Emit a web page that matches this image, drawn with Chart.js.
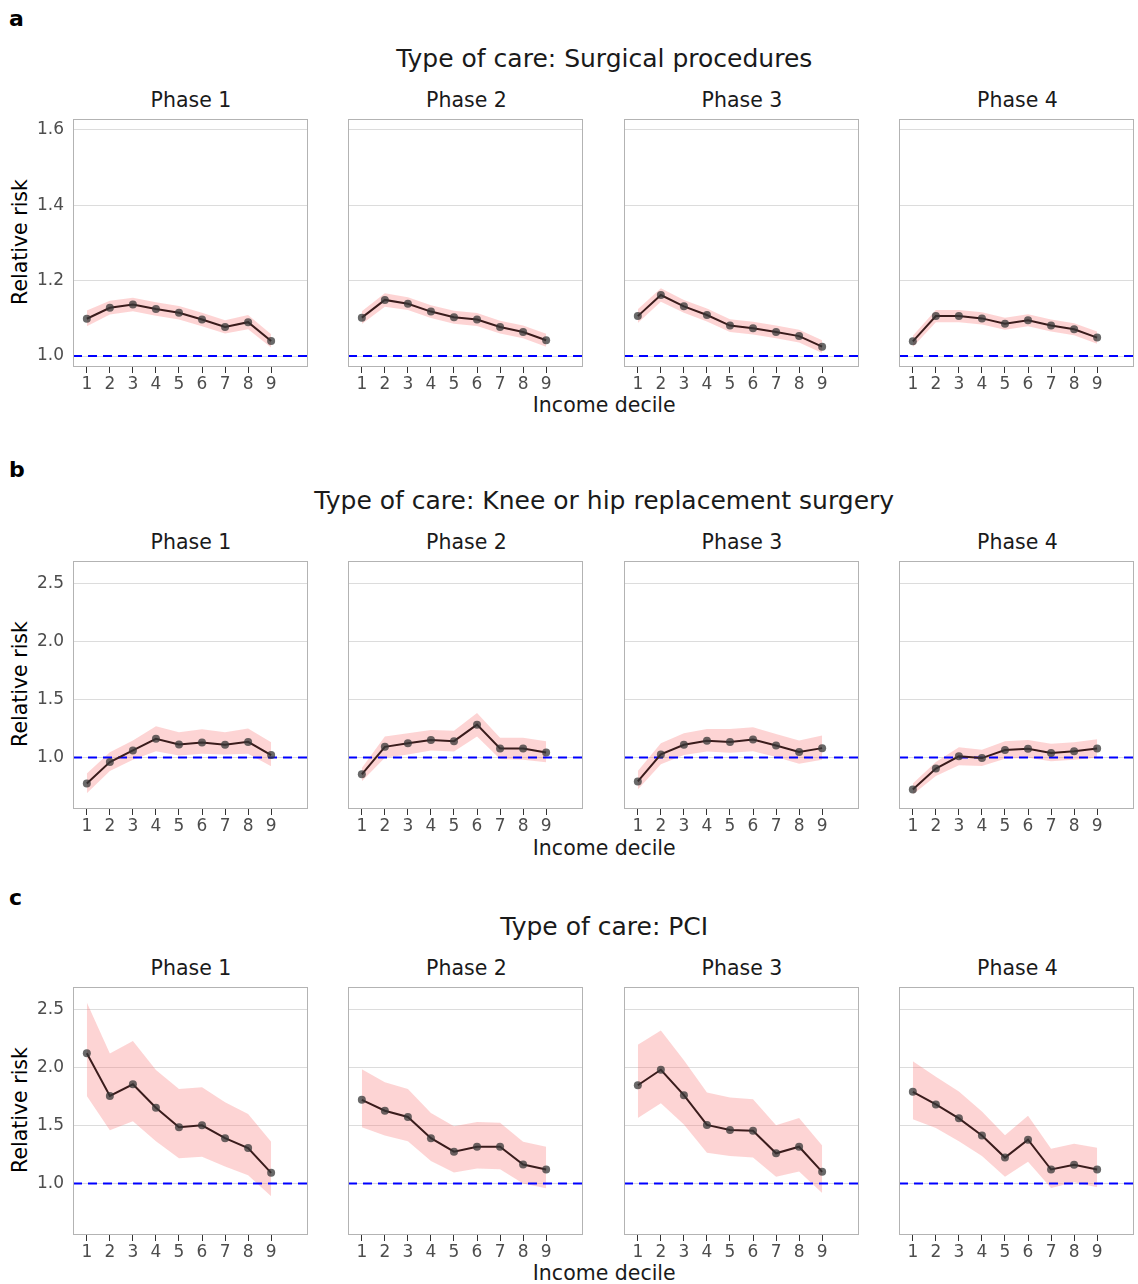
<!DOCTYPE html>
<html>
<head>
<meta charset="utf-8">
<script src="https://cdn.jsdelivr.net/npm/chart.js@4.4.1/dist/chart.umd.min.js"></script>
<style>
  body { margin: 0; background: #fff; font-family: "DejaVu Sans", sans-serif; }
  #page { position: relative; width: 1138px; height: 1284px; overflow: hidden; }
  .txt { position: absolute; transform: translate(-50%, -50%); white-space: nowrap; color: #1a1a1a; }
  .tag { position: absolute; font-weight: bold; font-size: 22px; color: #000; transform: translateY(-50%); }
  .ylab { position: absolute; transform: translate(-50%, -50%) rotate(-90deg); white-space: nowrap; font-size: 20.5px; color: #000; }
  canvas { position: absolute; }
</style>
</head>
<body>
<div id="page"></div>
<script>
// ---- data ----
const deciles = [1, 2, 3, 4, 5, 6, 7, 8, 9];
const phases = ['Phase 1', 'Phase 2', 'Phase 3', 'Phase 4'];
const careTypes = ['Surgical procedures', 'Knee or hip replacement surgery', 'PCI'];
const panelTags = ['a', 'b', 'c'];

const surgicalTicks = [1.0, 1.2, 1.4, 1.6];
const kneeTicks = [1.0, 1.5, 2.0, 2.5];
const pciTicks = [1.0, 1.5, 2.0, 2.5];

// estimate, lower and upper bound per phase
const surgicalEst = [
  [1.099, 1.128, 1.137, 1.125, 1.115, 1.097, 1.077, 1.090, 1.040],
  [1.102, 1.149, 1.139, 1.118, 1.103, 1.097, 1.077, 1.064, 1.042],
  [1.106, 1.162, 1.132, 1.109, 1.081, 1.074, 1.064, 1.053, 1.025],
  [1.039, 1.106, 1.106, 1.100, 1.086, 1.095, 1.081, 1.071, 1.049]
];
const surgicalLo = [
  [1.079, 1.110, 1.119, 1.107, 1.097, 1.079, 1.060, 1.071, 1.023],
  [1.085, 1.131, 1.122, 1.101, 1.086, 1.080, 1.060, 1.047, 1.025],
  [1.088, 1.144, 1.115, 1.092, 1.064, 1.057, 1.047, 1.036, 1.008],
  [1.024, 1.090, 1.090, 1.084, 1.070, 1.079, 1.065, 1.055, 1.033]
];
const surgicalHi = [
  [1.121, 1.147, 1.155, 1.143, 1.133, 1.115, 1.095, 1.109, 1.058],
  [1.119, 1.167, 1.156, 1.135, 1.120, 1.114, 1.094, 1.081, 1.059],
  [1.124, 1.180, 1.149, 1.126, 1.098, 1.091, 1.081, 1.070, 1.042],
  [1.054, 1.122, 1.122, 1.116, 1.102, 1.111, 1.097, 1.087, 1.065]
];

const kneeEst = [
  [0.775, 0.960, 1.060, 1.160, 1.111, 1.129, 1.109, 1.134, 1.020],
  [0.854, 1.091, 1.123, 1.151, 1.140, 1.283, 1.077, 1.077, 1.043],
  [0.792, 1.026, 1.109, 1.143, 1.134, 1.154, 1.103, 1.046, 1.080],
  [0.723, 0.903, 1.009, 0.994, 1.063, 1.074, 1.037, 1.054, 1.077]
];
const kneeLo = [
  [0.690, 0.883, 0.980, 1.054, 1.017, 1.031, 1.026, 1.031, 0.923],
  [0.794, 0.997, 1.026, 1.060, 1.051, 1.180, 0.986, 0.980, 0.957],
  [0.723, 0.940, 1.020, 1.051, 1.040, 1.054, 1.003, 0.946, 0.980],
  [0.680, 0.840, 0.931, 0.926, 0.989, 0.997, 0.966, 0.980, 0.997]
];
const kneeHi = [
  [0.860, 1.045, 1.146, 1.268, 1.217, 1.243, 1.217, 1.249, 1.131],
  [0.908, 1.180, 1.208, 1.237, 1.231, 1.383, 1.169, 1.169, 1.140],
  [0.883, 1.123, 1.208, 1.246, 1.246, 1.260, 1.203, 1.146, 1.189],
  [0.774, 0.960, 1.088, 1.066, 1.140, 1.151, 1.117, 1.131, 1.157]
];

const pciEst = [
  [2.124, 1.756, 1.856, 1.654, 1.485, 1.502, 1.391, 1.305, 1.091],
  [1.722, 1.628, 1.574, 1.391, 1.274, 1.317, 1.317, 1.163, 1.120],
  [1.848, 1.982, 1.762, 1.505, 1.462, 1.454, 1.260, 1.317, 1.100],
  [1.791, 1.682, 1.562, 1.414, 1.223, 1.377, 1.120, 1.160, 1.120]
];
const pciLo = [
  [1.756, 1.459, 1.537, 1.365, 1.217, 1.231, 1.146, 1.071, 0.889],
  [1.485, 1.414, 1.365, 1.194, 1.094, 1.128, 1.123, 1.000, 0.957],
  [1.565, 1.693, 1.508, 1.265, 1.237, 1.223, 1.057, 1.103, 0.917],
  [1.554, 1.479, 1.365, 1.237, 1.057, 1.186, 0.960, 1.009, 0.966]
];
const pciHi = [
  [2.564, 2.122, 2.230, 1.979, 1.816, 1.830, 1.702, 1.599, 1.360],
  [1.987, 1.873, 1.816, 1.608, 1.494, 1.531, 1.525, 1.360, 1.317],
  [2.199, 2.321, 2.064, 1.785, 1.742, 1.728, 1.502, 1.565, 1.328],
  [2.056, 1.922, 1.793, 1.622, 1.417, 1.585, 1.300, 1.342, 1.308]
];

const refValue = 1.0;

// ---- layout ----
const rows = [
  { est: surgicalEst, lo: surgicalLo, hi: surgicalHi, ticks: surgicalTicks, yMin: 0.971, yMax: 1.629,
    tagY: 18, titleY: 58, phaseY: 100, plotTop: 117, xlabY: 405 },
  { est: kneeEst, lo: kneeLo, hi: kneeHi, ticks: kneeTicks, yMin: 0.554, yMax: 2.697,
    tagY: 469, titleY: 500, phaseY: 542, plotTop: 559, xlabY: 848 },
  { est: pciEst, lo: pciLo, hi: pciHi, ticks: pciTicks, yMin: 0.554, yMax: 2.697,
    tagY: 897, titleY: 926, phaseY: 968, plotTop: 985, xlabY: 1273 }
];
const plotLefts = [72.5, 348, 623.5, 899];
const plotW = 237, plotH = 250;
const yAxisW = 45, xAxisH = 32, padTop = 2, padRight = 2;
const xMin = 0.4, xMax = 10.6;

const page = document.getElementById('page');

function addText(cls, text, x, y, size) {
  const d = document.createElement('div');
  d.className = cls;
  d.textContent = text;
  d.style.left = x + 'px';
  d.style.top = y + 'px';
  if (size) d.style.fontSize = size + 'px';
  page.appendChild(d);
  return d;
}

// box round each panel
const panelBox = {
  id: 'panelBox',
  afterDraw(chart) {
    const a = chart.chartArea, ctx = chart.ctx;
    ctx.save();
    ctx.strokeStyle = '#b3b3b3';
    ctx.lineWidth = 1;
    ctx.strokeRect(Math.round(a.left) + 0.5, Math.round(a.top) + 0.5,
                   Math.round(a.right - a.left) - 1, Math.round(a.bottom - a.top) - 1);
    ctx.restore();
  }
};

rows.forEach((row, r) => {
  const mid = (plotLefts[0] + plotLefts[3] + plotW) / 2;
  const tag = document.createElement('div');
  tag.className = 'tag';
  tag.textContent = panelTags[r];
  tag.style.left = '9px';
  tag.style.top = row.tagY + 'px';
  page.appendChild(tag);

  addText('txt', 'Type of care: ' + careTypes[r], mid, row.titleY, 25);
  addText('txt', 'Income decile', mid, row.xlabY, 20.5);
  addText('ylab', 'Relative risk', 20, row.plotTop + plotH / 2);

  phases.forEach((ph, p) => {
    addText('txt', ph, plotLefts[p] + plotW / 2, row.phaseY, 20.5);

    const cv = document.createElement('canvas');
    const W = yAxisW + plotW + padRight, H = padTop + plotH + xAxisH;
    cv.width = W; cv.height = H;
    cv.style.left = (plotLefts[p] - yAxisW) + 'px';
    cv.style.top = (row.plotTop - padTop) + 'px';
    page.appendChild(cv);

    const pts = arr => deciles.map((d, i) => ({ x: d, y: arr[i] }));

    new Chart(cv, {
      type: 'line',
      data: {
        datasets: [
          {
            label: 'estimate',
            data: pts(row.est[p]),
            borderColor: '#3a1c1c',
            borderWidth: 2,
            pointRadius: 4,
            pointBackgroundColor: 'rgba(55,55,55,0.75)',
            pointBorderWidth: 0,
            fill: false,
            tension: 0
          },
          {
            label: 'reference',
            data: [{ x: xMin, y: refValue }, { x: xMax, y: refValue }],
            borderColor: '#0000ff',
            borderWidth: 2,
            borderDash: [9, 6],
            pointRadius: 0,
            fill: false
          },
          {
            label: 'upper',
            data: pts(row.hi[p]),
            borderWidth: 0,
            borderColor: 'rgba(0,0,0,0)',
            pointRadius: 0,
            backgroundColor: 'rgba(250,120,120,0.32)',
            fill: '+1',
            tension: 0
          },
          {
            label: 'lower',
            data: pts(row.lo[p]),
            borderWidth: 0,
            borderColor: 'rgba(0,0,0,0)',
            pointRadius: 0,
            fill: false,
            tension: 0
          }
        ]
      },
      options: {
        responsive: false,
        animation: false,
        devicePixelRatio: 1,
        layout: { padding: { top: padTop, right: padRight, left: 0, bottom: 0 } },
        plugins: { legend: { display: false }, tooltip: { enabled: false } },
        scales: {
          x: {
            type: 'linear',
            min: xMin,
            max: xMax,
            afterBuildTicks: s => { s.ticks = deciles.map(v => ({ value: v })); },
            afterFit: s => { s.height = xAxisH; s.paddingLeft = 0; s.paddingRight = 0; },
            border: { display: false },
            grid: { drawOnChartArea: false, drawTicks: true, tickLength: 6, color: '#333333', lineWidth: 1 },
            ticks: { padding: 1, color: '#4d4d4d', font: { family: 'DejaVu Sans', size: 17 }, maxRotation: 0 }
          },
          y: {
            type: 'linear',
            min: row.yMin,
            max: row.yMax,
            afterBuildTicks: s => { s.ticks = row.ticks.map(v => ({ value: v })); },
            afterFit: s => { s.width = yAxisW; s.paddingTop = 0; s.paddingBottom = 0; },
            border: { display: false },
            grid: { drawTicks: false, color: '#dcdcdc', lineWidth: 1 },
            ticks: {
              display: p === 0,
              padding: 9,
              color: '#4d4d4d',
              font: { family: 'DejaVu Sans', size: 17 },
              callback: v => v.toFixed(1)
            }
          }
        }
      },
      plugins: [panelBox]
    });
  });
});
</script>
</body>
</html>
